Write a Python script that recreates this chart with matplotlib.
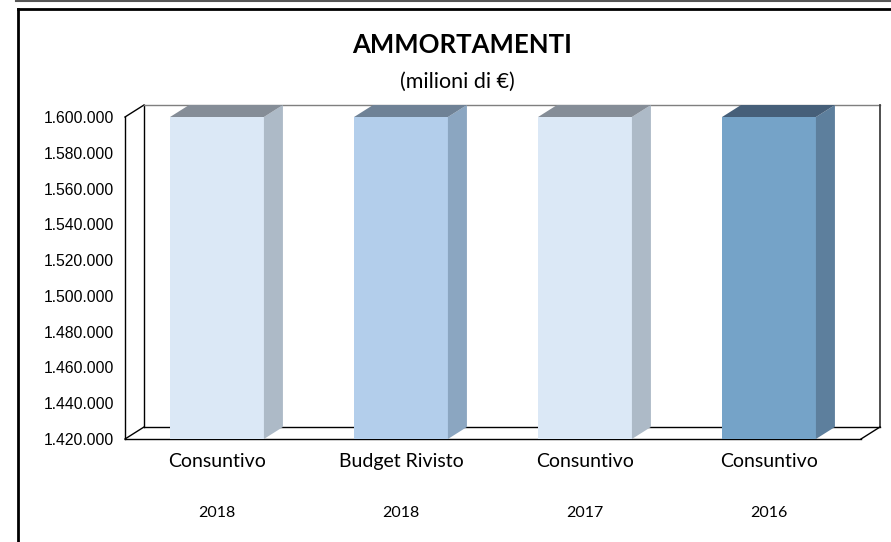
import matplotlib.pyplot as plt
import matplotlib.ticker as tick
from matplotlib.lines import Line2D
from matplotlib.patches import Polygon

# Ammortamenti per periodo (valori oltre il massimo dell'asse vengono tagliati)
categories = ["Consuntivo", "Budget Rivisto", "Consuntivo", "Consuntivo"]
years = ["2018", "2018", "2017", "2016"]
values = [1600000, 1600000, 1600000, 1600000]

face_colors = ["#DBE8F6", "#B3CEEB", "#DBE8F6", "#75A3C8"]
side_colors = ["#ADBAC7", "#8BA6C1", "#ADBAC7", "#5D7F9D"]
top_colors = ["#858D97", "#6F8296", "#858D97", "#465F79"]

y_min, y_max, y_step = 1420000, 1600000, 20000

W, H, dpi = 891, 542, 100
fig = plt.figure(figsize=(W / dpi, H / dpi), dpi=dpi)

# front plane of the 3d box, in pixels
px_l, px_r, px_top, px_bot = 125, 861, 117, 439
depth_px = (19, 12)
ax = fig.add_axes([px_l / W, 1 - px_bot / H, (px_r - px_l) / W, (px_bot - px_top) / H])
ax.set_xlim(-0.5, len(categories) - 0.5)
ax.set_ylim(y_min, y_max)
for s in ax.spines.values():
    s.set_visible(False)

# depth offset in data units
dx = depth_px[0] * (len(categories)) / (px_r - px_l)
dy = depth_px[1] * (y_max - y_min) / (px_bot - px_top)
x0, x1 = -0.5, len(categories) - 0.5

def seg(xs, ys, color="black", lw=1.0, z=1):
    ax.add_line(Line2D(xs, ys, color=color, lw=lw, zorder=z, clip_on=False))

# walls and floor
seg([x0, x0], [y_min, y_max])
seg([x0, x0 + dx], [y_max, y_max + dy])
seg([x0, x0 + dx], [y_min, y_min + dy])
seg([x0 + dx, x0 + dx], [y_min + dy, y_max + dy])
seg([x0 + dx, x1 + dx], [y_max + dy, y_max + dy], color="#7f7f7f")
seg([x1 + dx, x1 + dx], [y_min + dy, y_max + dy], color="#404040", lw=1.3)
seg([x0 + dx, x1 + dx], [y_min + dy, y_min + dy])
seg([x0, x1], [y_min, y_min])
seg([x1, x1 + dx], [y_min, y_min + dy])

# bars
bw = 0.51
for i, v in enumerate(values):
    v = min(v, y_max)
    xl, xr = i - bw / 2, i + bw / 2
    ax.add_patch(Polygon([(xl, y_min), (xr, y_min), (xr, v), (xl, v)],
                         closed=True, fc=face_colors[i], ec="none", zorder=3, clip_on=False))
    ax.add_patch(Polygon([(xr, y_min), (xr + dx, y_min + dy), (xr + dx, v + dy), (xr, v)],
                         closed=True, fc=side_colors[i], ec="none", zorder=3, clip_on=False))
    ax.add_patch(Polygon([(xl, v), (xr, v), (xr + dx, v + dy), (xl + dx, v + dy)],
                         closed=True, fc=top_colors[i], ec="none", zorder=3, clip_on=False))

# y axis labels
ax.set_yticks(range(y_min, y_max + 1, y_step))
ax.yaxis.set_major_formatter(tick.FuncFormatter(lambda x, pos: f"{int(x):,}".replace(",", ".")))
ax.tick_params(axis="y", length=0, pad=8, labelsize=11.3)
for lbl in ax.get_yticklabels():
    lbl.set_fontfamily("Liberation Sans")

ax.set_xticks(range(len(categories)))
ax.set_xticklabels(categories, fontfamily="Lato", fontsize=14)
ax.tick_params(axis="x", length=0, pad=10)

for i, yr in enumerate(years):
    ax.annotate(yr, (i, y_min), xytext=(0, -74), textcoords="offset pixels",
                ha="center", va="center", fontfamily="Lato", fontsize=11.5)

fig.text(462 / W, 1 - 45 / H, "AMMORTAMENTI", ha="center", va="center",
         fontfamily="Lato", fontweight="bold", fontsize=18.5)
fig.text(457 / W, 1 - 82 / H, "(milioni di €)", ha="center", va="center",
         fontfamily="Lato", fontsize=15.5)

# outer frame
fig.add_artist(Line2D([16 / W, 1], [1 - 1 / H, 1 - 1 / H], color="#555555", lw=1.5,
                      transform=fig.transFigure))
fig.add_artist(Line2D([17.5 / W, 1], [1 - 8.5 / H, 1 - 8.5 / H], color="black", lw=2,
                      transform=fig.transFigure))
fig.add_artist(Line2D([17.5 / W, 17.5 / W], [0, 1 - 8.5 / H], color="black", lw=2,
                      transform=fig.transFigure))

fig.savefig("out.png", dpi=dpi)
